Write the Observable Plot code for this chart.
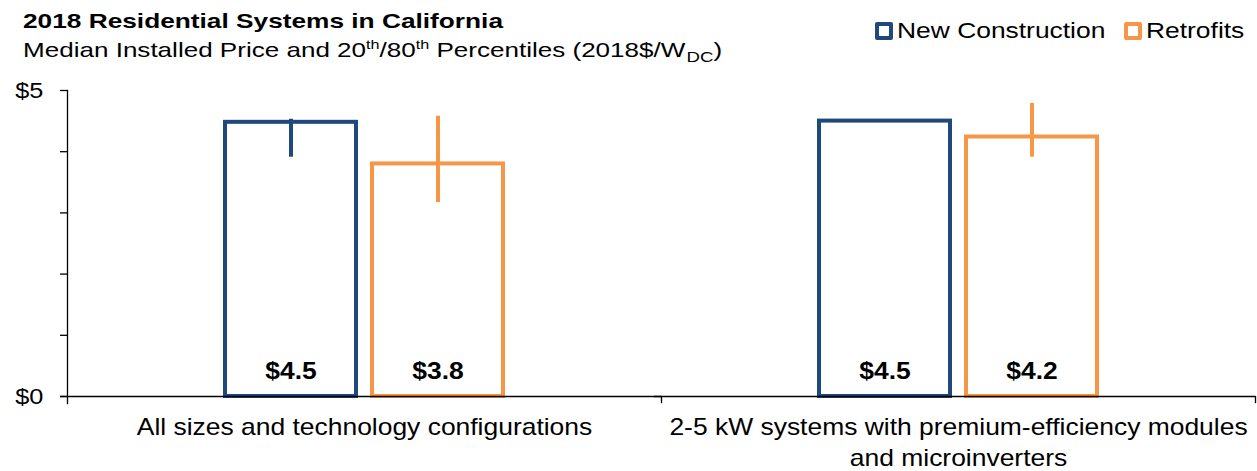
<!DOCTYPE html>
<html>
<head>
<meta charset="utf-8">
<script src="https://cdn.jsdelivr.net/npm/d3@7"></script>
<script src="https://cdn.jsdelivr.net/npm/@observablehq/plot@0.6"></script>
<style>
  html, body { margin: 0; padding: 0; background: #fff; }
  body { font-family: "Liberation Sans", Arial, sans-serif; color: #000; }
  #wrap { position: relative; width: 1257px; height: 471px; overflow: hidden; }
  #head { position: relative; width: 1257px; height: 70px; }
  .stretch { position: absolute; white-space: nowrap; line-height: normal; transform-origin: left center; }
  #title { left: 23px; top: 9px; font-size: 21px; font-weight: bold; transform: scaleX(1.25); }
  #subtitle { left: 23px; top: 38px; font-size: 21px; transform: scaleX(1.24); }
  #subtitle sup { font-size: 13px; vertical-align: 8px; line-height: 0; }
  #subtitle sub { font-size: 15px; vertical-align: -5px; line-height: 0; margin-left: 1px; }
  .swatch { position: absolute; top: 22px; width: 10px; height: 10px; border: 4px solid; border-radius: 2px; }
  .legtext { top: 18px; font-size: 22px; transform: scaleX(1.2); }
</style>
</head>
<body>
<div id="wrap">
  <div id="head">
    <div id="title" class="stretch">2018 Residential Systems in California</div>
    <div id="subtitle" class="stretch">Median Installed Price and 20<sup>th</sup>/80<sup>th</sup> Percentiles (2018$/W<sub>DC</sub>)</div>
    <div id="legend"></div>
  </div>
  <div id="chart"></div>
</div>
<script>
// ---- data ----
const categories = [
  "All sizes and technology configurations",
  "2-5 kW systems with premium-efficiency modules and microinverters"
];
const categoryLabels = [
  "All sizes and technology configurations",
  "2-5 kW systems with premium-efficiency modules\nand microinverters"
];
const series = ["New Construction", "Retrofits"];
const seriesColors = ["#1f497d", "#f79646"];

const newConstructionMedian = [4.48, 4.50];
const newConstructionP20 = [3.91, 4.50];
const newConstructionP80 = [4.53, 4.50];

const retrofitsMedian = [3.80, 4.24];
const retrofitsP20 = [3.17, 3.91];
const retrofitsP80 = [4.58, 4.79];

const yTicks = [0, 1, 2, 3, 4, 5];
const yTickLabels = ["$0", "", "", "", "", "$5"];

// ---- table built from the arrays ----
const rows = [];
categories.forEach((c, i) => {
  rows.push({category: c, series: series[0], median: newConstructionMedian[i], p20: newConstructionP20[i], p80: newConstructionP80[i]});
  rows.push({category: c, series: series[1], median: retrofitsMedian[i], p20: retrofitsP20[i], p80: retrofitsP80[i]});
});

// ---- legend ----
const legend = document.getElementById("legend");
const legendPos = [[875, 897], [1124, 1146]];
series.forEach((s, i) => {
  const sw = document.createElement("div");
  sw.className = "swatch";
  sw.style.left = legendPos[i][0] + "px";
  sw.style.borderColor = seriesColors[i];
  legend.appendChild(sw);
  const t = document.createElement("div");
  t.className = "stretch legtext";
  t.style.left = legendPos[i][1] + "px";
  t.textContent = s;
  legend.appendChild(t);
});

// ---- chart ----
const chart = Plot.plot({
  width: 1257,
  height: 401,
  marginTop: 20,
  marginBottom: 75,
  marginLeft: 67,
  marginRight: 2,
  style: {fontFamily: "'Liberation Sans', Arial, sans-serif", fontSize: "22px", color: "#000", background: "#fff", overflow: "visible"},
  fx: {domain: categories, paddingInner: 0, paddingOuter: 0, label: null},
  x: {domain: series, paddingInner: 0.108, paddingOuter: 1.061, axis: null},
  y: {domain: [0, 5], label: null},
  color: {domain: series, range: seriesColors},
  marks: [
    Plot.barY(rows, {fx: "category", x: "series", y: "median", fill: "white", stroke: "series", strokeWidth: 4}),
    Plot.ruleX(rows, {fx: "category", x: "series", y1: "p20", y2: "p80", stroke: "series", strokeWidth: 4}),
    Plot.ruleY([0], {stroke: "#000", strokeWidth: 1.3, insetLeft: -7}),
    Plot.frame({anchor: "left", facetAnchor: "left", stroke: "#000", strokeWidth: 1.3, insetBottom: -7}),
    Plot.frame({anchor: "right", stroke: "#000", strokeWidth: 1.3, insetTop: 306, insetBottom: -6}),
    Plot.text(rows, {fx: "category", x: "series", y: 0, text: d => "$" + d.median.toFixed(1), dy: -18, lineAnchor: "bottom", fontWeight: "bold", fontSize: 23}),
    Plot.axisY(yTicks, {anchor: "left", tickSize: 7, tickPadding: 19, fontSize: 22, strokeWidth: 1.3, tickFormat: d => yTickLabels[yTicks.indexOf(d)]}),
    Plot.axisFx({anchor: "bottom", tickSize: 0, tickPadding: 16, fontSize: 23, lineHeight: 1.35, label: null, tickFormat: d => categoryLabels[categories.indexOf(d)]})
  ]
});
document.getElementById("chart").appendChild(chart);

// the reference's lettering is horizontally widened: widen each SVG text about its own centre
chart.querySelectorAll("text").forEach(t => {
  const b = t.getBBox();
  const cx = b.x + b.width / 2;
  const tr = t.getAttribute("transform") || "";
  t.setAttribute("transform", `${tr} translate(${cx},0) scale(1.15,1) translate(${-cx},0)`);
});
</script>
</body>
</html>
